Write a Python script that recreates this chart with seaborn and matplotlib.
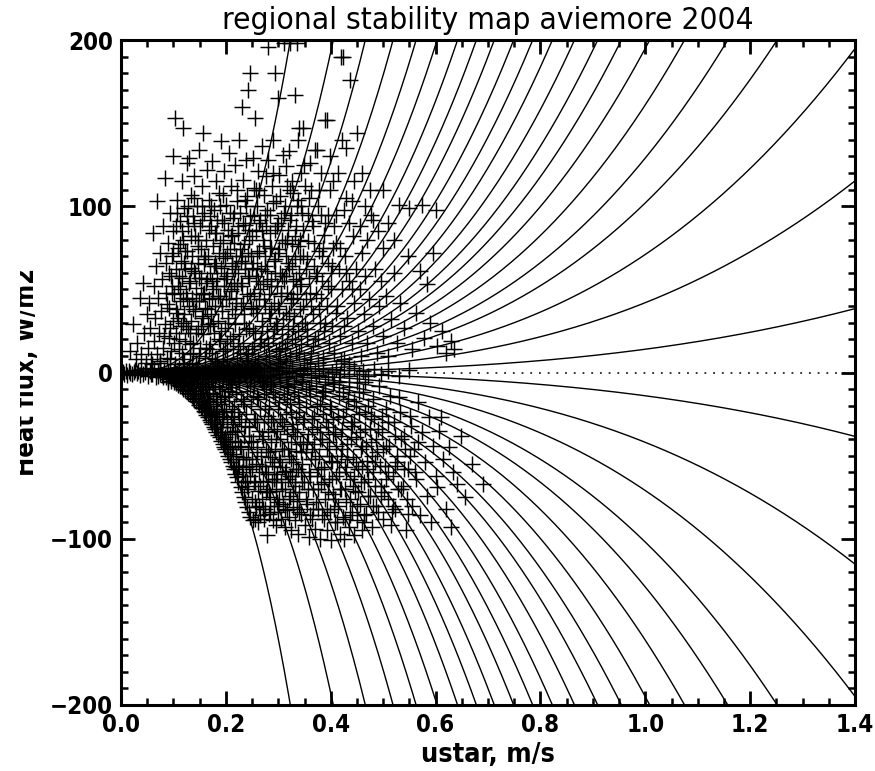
import numpy as np
import pandas as pd
import matplotlib
matplotlib.use("Agg")
import matplotlib.pyplot as plt
import seaborn as sns
from matplotlib.ticker import MultipleLocator
from matplotlib.transforms import Bbox, TransformedBbox
from matplotlib import font_manager as fm

# ---------------- data ----------------
# stability curves: heat flux = +/- coef * ustar**3  (W m-2 per (m/s)^3)
curve_coef = [5935, 3011, 1976, 1431, 1121, 912, 756, 642, 554, 476, 413,
              359, 309, 266, 230, 195, 161, 129, 102, 71, 42, 14]
curve_sign = [1, -1]

zero_pts = [(0.003,0.5),(0.006,-0.8),(0.009,1.2),(0.012,-1.5),(0.015,1),(0.018,0),(0.021,-1),(0.024,0.5),
            (0.027,1.8),(0.03,-0.5),(0.033,1),(0.036,-1.8),(0.039,2),(0.042,-1),(0.045,0.5),(0.048,2.5),
            (0.051,-2),(0.055,1),(0.058,-1),(0.062,2),(0.066,-2.5),(0.07,0.5),(0.074,3),(0.078,-1.5),
            (0.082,1.5),(0.086,-3),(0.09,0),(0.094,3),(0.098,-2),(0.102,1),(0.106,-3.5),(0.11,2.5),
            (0.114,-1),(0.118,3.5),(0.122,-2.5),(0.126,0.5),(0.13,3),(0.134,-3),(0.138,1),(0.142,-1.5),
            (0.146,3.5),(0.15,-3.5),(0.155,0.5),(0.16,2.5),(0.165,-2),(0.17,1),(0.175,-3),(0.18,3),
            (0.185,-1),(0.19,2),(0.195,-3.5),(0.2,0.5),(0.206,3),(0.212,-2),(0.218,1.5),(0.224,-3),
            (0.23,2.5),(0.236,-1),(0.242,3.5),(0.248,-2.5),(0.254,0.5),(0.26,2),(0.266,-3),(0.272,1),
            (0.278,-1.5),(0.284,3),(0.29,-2.5),(0.296,1),(0.302,-1),(0.308,2.5),(0.314,-3),(0.32,0.5),
            (0.327,3),(0.334,-2),(0.341,1.5),(0.348,-1),(0.355,2.5),(0.362,-3),(0.37,1),(0.378,-1.5),
            (0.386,2),(0.394,-2.5),(0.402,0.5),(0.41,2),(0.418,-1),(0.426,1.5),(0.435,-2),(0.444,2.5),
            (0.453,-1),(0.462,1),(0.472,-2),(0.482,2),(0.495,-1),(0.51,1),(0.53,-2),(0.55,1.5),
            (0.06,5),(0.09,-6),(0.12,6),(0.15,-7),(0.18,6),(0.21,-7),(0.24,7),(0.27,-6),(0.3,6),(0.33,-7),
            (0.36,6),(0.39,-6),(0.42,7),(0.45,-6),(0.075,7),(0.105,-5),(0.135,5),(0.165,-6),(0.195,7),(0.225,-5),
            (0.255,6),(0.285,-7),(0.315,7),(0.345,-5),(0.375,6),(0.405,-7),(0.435,5),(0.465,-6)]

pos_pts = [(0.017,13),(0.023,29),(0.028,8),(0.031,18),(0.036,45),(0.039,11),(0.042,54),(0.044,24),(0.047,6),(0.049,35),
           (0.052,15),(0.054,42),(0.056,27),(0.058,8),(0.061,84),(0.062,52),(0.063,19),(0.065,33),(0.067,64),(0.069,103),(0.069,11),
           (0.071,45),(0.072,24),(0.074,72),(0.075,6),(0.077,37),(0.078,56),(0.08,15),(0.081,88),(0.083,29),(0.084,117),(0.085,48),(0.086,66),(0.088,9),(0.089,78),
           (0.091,21),(0.092,39),(0.093,96),(0.095,58),(0.096,13),(0.097,70),(0.099,31),(0.1,130),(0.1,85),(0.101,47),(0.103,153),(0.103,5),(0.104,62),(0.105,24),(0.106,104),(0.107,36),(0.108,75),(0.109,52),
           (0.111,14),(0.112,91),(0.113,43),(0.114,67),(0.115,28),(0.116,115),(0.117,57),(0.118,147),(0.118,8),(0.119,80),(0.12,35),(0.121,99),(0.122,19),(0.123,62),(0.124,48),(0.125,126),(0.126,73),(0.127,26),(0.128,88),(0.129,40),
           (0.13,129),(0.131,11),(0.132,55),(0.133,107),(0.134,31),(0.135,70),(0.136,45),(0.137,94),(0.138,18),(0.139,61),(0.14,118),(0.141,37),(0.142,82),(0.143,6),(0.144,51),(0.145,100),(0.146,26),(0.147,66),(0.148,134),(0.149,43),
           (0.15,88),(0.151,15),(0.152,57),(0.153,74),(0.154,33),(0.155,112),(0.156,47),(0.157,144),(0.157,23),(0.158,65),(0.159,96),(0.16,9),(0.161,39),(0.162,80),(0.163,54),(0.164,122),(0.165,29),(0.166,70),(0.167,104),(0.168,44),(0.169,17),
           (0.17,60),(0.171,88),(0.172,35),(0.173,127),(0.174,12),(0.175,76),(0.176,50),(0.177,98),(0.178,24),(0.179,66),(0.18,40),(0.181,115),(0.182,84),(0.183,7),(0.184,57),(0.185,31),(0.186,72),(0.187,108),(0.188,46),(0.189,19),
           (0.19,139),(0.191,63),(0.192,92),(0.193,37),(0.194,13),(0.195,80),(0.196,52),(0.197,121),(0.198,27),(0.199,69),(0.2,44),(0.201,101),(0.202,8),(0.203,58),(0.204,86),(0.205,33),(0.206,132),(0.207,74),(0.208,20),(0.209,49),
           (0.21,112),(0.211,64),(0.212,38),(0.213,93),(0.214,14),(0.215,78),(0.216,54),(0.217,125),(0.218,29),(0.219,70),(0.22,45),(0.221,103),(0.222,9),(0.223,84),(0.224,60),(0.225,140),(0.226,23),(0.227,96),(0.228,40),(0.229,67),
           (0.23,160),(0.231,52),(0.232,116),(0.233,18),(0.234,77),(0.235,35),(0.236,89),(0.237,62),(0.238,128),(0.239,11),(0.24,47),(0.241,106),(0.242,72),(0.243,170),(0.244,27),(0.245,57),(0.246,180),(0.247,94),(0.248,39),(0.249,82),
           (0.25,14),(0.251,66),(0.252,129),(0.253,111),(0.254,48),(0.255,153),(0.256,24),(0.257,85),(0.258,58),(0.259,100),(0.26,36),(0.261,121),(0.262,8),(0.263,73),(0.264,44),(0.265,92),(0.266,18),(0.267,62),(0.268,136),(0.269,31),
           (0.27,80),(0.271,53),(0.272,107),(0.273,16),(0.274,70),(0.275,40),(0.276,118),(0.277,88),(0.278,25),(0.279,61),(0.28,196),(0.281,128),(0.282,47),(0.283,10),(0.284,95),(0.285,33),(0.286,75),(0.287,56),(0.288,112),(0.289,21),
           (0.29,140),(0.291,67),(0.292,42),(0.293,180),(0.294,86),(0.295,13),(0.296,103),(0.297,52),(0.298,28),(0.299,72),(0.3,165),(0.301,38),(0.302,119),(0.303,60),(0.304,8),(0.305,93),(0.306,46),(0.307,23),(0.308,80),(0.309,131),
           (0.31,198),(0.311,55),(0.312,15),(0.313,100),(0.314,36),(0.315,70),(0.316,112),(0.317,48),(0.318,26),(0.319,86),(0.32,133),(0.321,62),(0.322,10),(0.323,198),(0.324,42),(0.325,95),(0.326,77),(0.327,20),(0.328,55),(0.329,108),
           (0.33,34),(0.331,167),(0.332,68),(0.333,12),(0.334,88),(0.335,47),(0.336,198),(0.337,25),(0.338,104),(0.339,60),(0.34,147),(0.341,38),(0.342,80),(0.343,17),(0.344,53),(0.345,96),(0.346,30),(0.347,70),(0.348,147),(0.349,8),
           (0.35,112),(0.352,44),(0.354,22),(0.356,79),(0.358,57),(0.36,126),(0.362,12),(0.364,91),(0.366,35),(0.368,64),(0.37,134),(0.372,47),(0.374,134),(0.376,20),(0.378,73),
           (0.38,30),(0.382,95),(0.384,55),(0.386,9),(0.388,83),(0.39,152),(0.392,40),(0.393,152),(0.395,66),(0.397,18),(0.399,110),
           (0.4,50),(0.402,28),(0.405,75),(0.407,12),(0.41,95),(0.412,40),(0.415,62),(0.418,22),(0.42,190),(0.422,50),(0.424,190),(0.426,8),(0.428,70),(0.43,135),(0.432,33),(0.435,55),(0.437,176),(0.44,18),(0.442,82),(0.445,42),(0.448,62),(0.45,144),
           (0.425,98),(0.44,103),(0.455,88),(0.465,100),(0.47,80),(0.48,92),(0.445,115),(0.46,120),(0.475,110),(0.49,85),(0.43,105),(0.5,75),(0.51,90),(0.52,80),(0.5,110),
           (0.53,101),(0.55,99),(0.575,101),(0.6,98),
           (0.452,25),(0.455,50),(0.458,10),(0.46,72),(0.463,35),(0.466,58),(0.47,18),(0.473,44),(0.476,95),(0.48,28),(0.484,62),(0.488,12),(0.492,40),(0.496,55),(0.5,22),
           (0.505,46),(0.51,10),(0.515,32),(0.52,60),(0.527,18),(0.533,42),(0.54,27),(0.547,70),(0.555,14),(0.562,36),(0.571,61),(0.577,21),(0.584,53),(0.59,30),(0.596,72),(0.603,16),(0.612,25),(0.62,12),(0.63,19),(0.636,14)]

core_pos_pts = [(0.082,22),(0.087,41),(0.091,60),(0.094,8),(0.098,48),(0.102,18),(0.105,88),(0.108,33),(0.111,58),(0.113,77),
                (0.116,12),(0.119,45),(0.121,66),(0.124,28),(0.126,94),(0.129,54),(0.132,17),(0.134,82),(0.137,38),(0.139,105),
                (0.142,60),(0.144,24),(0.147,76),(0.149,10),(0.152,47),(0.154,92),(0.157,34),(0.159,70),(0.162,15),(0.164,56),
                (0.167,86),(0.169,28),(0.172,100),(0.174,45),(0.177,64),(0.179,8),(0.182,52),(0.184,92),(0.187,20),(0.189,78),
                (0.192,40),(0.194,107),(0.197,60),(0.199,14),(0.202,72),(0.204,30),(0.207,96),(0.209,50),(0.212,83),(0.214,22),
                (0.217,62),(0.219,42),(0.222,110),(0.224,16),(0.227,74),(0.229,54),(0.232,90),(0.234,30),(0.237,66),(0.239,100),
                (0.242,12),(0.244,80),(0.247,46),(0.249,63),(0.252,25),(0.254,95),(0.257,40),(0.259,72),(0.262,55),(0.264,110),
                (0.267,20),(0.269,86),(0.272,44),(0.274,64),(0.277,10),(0.279,98),(0.282,36),(0.284,75),(0.287,52),(0.289,120),
                (0.292,26),(0.294,68),(0.297,88),(0.299,40),(0.302,14),(0.304,106),(0.307,58),(0.309,32),(0.312,78),(0.314,124),
                (0.317,18),(0.319,66),(0.322,92),(0.324,44),(0.327,115),(0.329,28),(0.332,82),(0.334,56),(0.337,140),(0.339,12),
                (0.342,70),(0.344,100),(0.347,40),(0.349,125),(0.352,62),(0.355,26),(0.357,95),(0.36,48),(0.363,110),(0.366,16),
                (0.369,78),(0.372,58),(0.375,100),(0.378,38),(0.381,120),(0.384,70),(0.387,25),(0.39,90),(0.394,52),(0.398,130),
                (0.402,64),(0.406,88),(0.41,36),(0.414,120),(0.418,75),(0.422,140),(0.426,28),(0.43,60),(0.435,90),(0.44,50),
                (0.093,27),(0.097,52),(0.1,72),(0.104,38),(0.107,96),(0.11,20),(0.113,50),(0.116,85),(0.119,30),(0.122,73),
                (0.125,44),(0.128,100),(0.131,24),(0.134,63),(0.137,12),(0.14,90),(0.143,43),(0.146,80),(0.149,57),(0.152,28),
                (0.155,100),(0.158,48),(0.161,68),(0.164,38),(0.167,14),(0.17,94),(0.173,55),(0.176,30),(0.179,84),(0.182,64),
                (0.185,46),(0.188,100),(0.191,25),(0.194,70),(0.197,90),(0.2,56),(0.203,18),(0.206,44),(0.209,82),(0.212,66),
                (0.215,96),(0.218,35),(0.221,52),(0.224,88),(0.227,12),(0.23,70),(0.233,42),(0.236,104),(0.239,26),(0.242,58),
                (0.245,86),(0.248,70),(0.251,38),(0.254,16),(0.257,110),(0.26,62),(0.263,90),(0.266,50),(0.269,28),(0.272,76),
                (0.275,95),(0.278,55),(0.281,18),(0.284,84),(0.287,38),(0.29,102),(0.293,60),(0.296,30),(0.299,90),(0.302,74),
                (0.305,48),(0.308,18),(0.311,96),(0.314,58),(0.317,80),(0.32,36),(0.323,110),(0.326,64),(0.329,45),(0.332,20),
                (0.335,100),(0.338,76),(0.341,52),(0.344,120),(0.347,86),(0.35,30),(0.354,68),(0.358,105),(0.362,40),(0.366,88),
                (0.37,20),(0.374,60),(0.378,110),(0.382,45),(0.386,75),(0.39,30),(0.395,95),(0.4,60),(0.405,115),(0.41,78)]

neg_pts = [(0.06,-1.2),(0.07,-2),(0.075,-1),(0.08,-3),(0.085,-1.8),(0.09,-4),(0.093,-2.2),(0.096,-5),(0.099,-3),
           (0.101,-6),(0.103,-3.5),(0.105,-6.5),(0.107,-2),(0.109,-7.3),(0.11,-4.5),(0.112,-8),(0.114,-5.5),(0.116,-9),(0.117,-3),(0.119,-9.8),(0.12,-6.5),(0.122,-10.5),(0.124,-4),(0.125,-11.3),(0.127,-8),(0.128,-12.2),(0.129,-5),
           (0.131,-13),(0.132,-9),(0.134,-5.5),(0.135,-14.4),(0.136,-11),(0.138,-15.3),(0.139,-7),(0.14,-16),(0.141,-12.5),(0.143,-17),(0.144,-9),(0.145,-4),(0.146,-18),(0.147,-14),(0.149,-19.5),(0.15,-10.5),(0.152,-20.5),(0.153,-16),(0.154,-6),(0.155,-21.5),(0.157,-12.5),(0.158,-23),(0.159,-18),
           (0.16,-24),(0.161,-8),(0.162,-20),(0.163,-25.5),(0.164,-14),(0.165,-4),(0.166,-27),(0.167,-22),(0.168,-10),(0.169,-28.5),(0.17,-17),(0.171,-29.5),(0.172,-24.5),(0.173,-6),(0.174,-31),(0.175,-20),(0.176,-12.5),(0.177,-32.5),(0.178,-27),(0.179,-34),(0.18,-8),(0.181,-23),(0.182,-35.5),(0.183,-30),(0.184,-16),(0.185,-37.5),(0.186,-4),(0.187,-26),(0.188,-39),(0.189,-33),
           (0.19,-19),(0.191,-41),(0.192,-10),(0.193,-36),(0.194,-43),(0.195,-28),(0.196,-45),(0.197,-14),(0.198,-39),(0.199,-46),(0.2,-23),(0.201,-5),(0.202,-48),(0.203,-33),(0.204,-42),(0.205,-50),(0.206,-17),(0.207,-52),(0.208,-37),(0.209,-27),(0.21,-54),(0.211,-9),(0.212,-46),(0.213,-56),(0.214,-31),(0.215,-20),(0.216,-58),(0.217,-41),(0.218,-61),(0.219,-13),
           (0.22,-50),(0.221,-63),(0.222,-35),(0.223,-24),(0.224,-66),(0.225,-56),(0.226,-6),(0.227,-44),(0.228,-69),(0.229,-30),(0.23,-60),(0.231,-72),(0.232,-17),(0.233,-51),(0.234,-75),(0.235,-38),(0.236,-65),(0.237,-78),(0.238,-25),(0.239,-57),(0.24,-81),(0.241,-11),(0.242,-46),(0.243,-70),(0.244,-84),(0.245,-33),(0.246,-62),(0.247,-87),(0.248,-20),(0.249,-52),
           (0.25,-76),(0.251,-89),(0.252,-41),(0.253,-8),(0.254,-66),(0.255,-88),(0.256,-28),(0.257,-55),(0.258,-81),(0.259,-15),(0.26,-45),(0.261,-71),(0.262,-90),(0.263,-35),(0.264,-60),(0.265,-86),(0.266,-22),(0.267,-50),(0.268,-76),(0.269,-5),(0.27,-40),(0.271,-65),(0.272,-88),(0.273,-30),(0.274,-56),(0.275,-82),(0.276,-13),(0.277,-46),(0.278,-70),(0.279,-98),
           (0.28,-36),(0.281,-61),(0.282,-85),(0.283,-20),(0.284,-51),(0.285,-75),(0.286,-8),(0.287,-42),(0.288,-66),(0.289,-89),(0.29,-28),(0.291,-56),(0.292,-80),(0.293,-15),(0.294,-47),(0.295,-71),(0.296,-92),(0.297,-35),(0.298,-61),(0.299,-84),(0.3,-22),(0.301,-52),(0.302,-76),(0.303,-6),(0.304,-40),(0.305,-66),(0.306,-88),(0.307,-30),(0.308,-57),(0.309,-79),
           (0.31,-13),(0.311,-46),(0.312,-70),(0.313,-93),(0.314,-25),(0.315,-59),(0.316,-83),(0.317,-37),(0.318,-9),(0.319,-64),(0.32,-87),(0.321,-50),(0.322,-19),(0.323,-74),(0.324,-42),(0.325,-95),(0.326,-31),(0.327,-62),(0.328,-81),(0.329,-54),(0.33,-12),(0.331,-68),(0.332,-89),(0.333,-27),(0.334,-47),(0.335,-77),(0.336,-36),(0.337,-58),(0.338,-97),(0.339,-18),
           (0.34,-72),(0.342,-43),(0.343,-85),(0.345,-6),(0.346,-55),(0.347,-30),(0.349,-66),(0.35,-92),(0.352,-21),(0.353,-48),(0.355,-79),(0.356,-37),(0.358,-60),(0.359,-99),(0.361,-14),(0.362,-52),(0.364,-88),(0.365,-28),(0.367,-70),(0.368,-43),(0.37,-94),(0.371,-8),(0.373,-62),(0.374,-33),(0.376,-82),(0.377,-50),(0.379,-19),(0.38,-100),
           (0.381,-67),(0.383,-40),(0.384,-86),(0.386,-25),(0.387,-57),(0.389,-76),(0.39,-11),(0.392,-46),(0.393,-95),(0.395,-33),(0.396,-64),(0.398,-84),(0.399,-20),(0.401,-101),(0.402,-53),(0.404,-37),(0.405,-73),(0.407,-6),(0.408,-90),(0.41,-44),(0.411,-62),(0.413,-27),(0.414,-80),(0.416,-14),(0.417,-97),(0.419,-50),
           (0.42,-70),(0.422,-34),(0.424,-87),(0.425,-100),(0.427,-57),(0.429,-22),(0.43,-78),(0.432,-43),(0.434,-93),(0.435,-9),(0.437,-64),(0.439,-30),(0.44,-84),(0.442,-51),(0.444,-98),(0.445,-17),(0.447,-71),(0.449,-39),(0.45,-89),(0.452,-58),(0.454,-25),(0.456,-79),(0.458,-46),(0.46,-95),
           (0.462,-12),(0.464,-66),(0.466,-34),(0.468,-85),(0.47,-53),(0.472,-20),(0.474,-74),(0.476,-42),(0.478,-93),(0.48,-60),(0.483,-28),(0.486,-80),(0.489,-48),(0.492,-8),(0.495,-68),(0.498,-36),(0.5,-88),(0.503,-56),(0.506,-22),(0.509,-76),(0.512,-44),(0.515,-92),(0.518,-62),(0.52,-30),
           (0.523,-82),(0.527,-50),(0.531,-15),(0.535,-70),(0.539,-38),(0.543,-95),(0.547,-58),(0.551,-26),(0.555,-80),(0.559,-46),(0.563,-64),(0.567,-18),(0.571,-86),(0.575,-36),(0.579,-54),(0.583,-74),(0.587,-27),(0.591,-90),(0.595,-44),(0.6,-62),
           (0.603,-69),(0.607,-35),(0.61,-27),(0.615,-52),(0.62,-82),(0.625,-45),(0.63,-93),(0.634,-60),(0.64,-67),(0.648,-38),(0.656,-75),(0.67,-55),(0.69,-67)]

core_neg_pts = [(0.151,-7),(0.154,-13),(0.157,-18),(0.16,-3),(0.163,-10),(0.166,-16),(0.169,-23),(0.172,-4),(0.175,-13),(0.178,-25),
                (0.181,-18),(0.184,-31),(0.187,-9),(0.19,-36),(0.193,-24),(0.196,-40),(0.199,-15),(0.202,-30),(0.205,-44),(0.208,-6),
                (0.211,-22),(0.214,-49),(0.217,-35),(0.22,-12),(0.223,-56),(0.226,-28),(0.229,-45),(0.232,-62),(0.235,-19),(0.238,-52),
                (0.241,-68),(0.244,-38),(0.247,-8),(0.25,-58),(0.253,-28),(0.256,-78),(0.259,-48),(0.262,-16),(0.265,-68),(0.268,-38),
                (0.271,-82),(0.274,-22),(0.277,-60),(0.28,-48),(0.283,-72),(0.286,-30),(0.289,-12),(0.292,-64),(0.295,-40),(0.298,-78),
                (0.301,-18),(0.304,-54),(0.307,-70),(0.31,-32),(0.313,-82),(0.316,-8),(0.319,-46),(0.322,-62),(0.325,-24),(0.328,-72),
                (0.331,-38),(0.334,-58),(0.337,-14),(0.34,-84),(0.343,-48),(0.346,-66),(0.349,-28),(0.352,-76),(0.355,-42),(0.358,-10),
                (0.361,-62),(0.364,-34),(0.367,-82),(0.37,-52),(0.373,-20),(0.376,-70),(0.379,-40),(0.382,-58),(0.385,-12),(0.388,-88),
                (0.391,-30),(0.394,-72),(0.397,-50),(0.4,-22),(0.403,-64),(0.406,-82),(0.409,-36),(0.412,-54),(0.415,-6),(0.418,-70),
                (0.421,-46),(0.424,-26),(0.427,-88),(0.43,-60),(0.433,-16),(0.436,-76),(0.439,-40),(0.442,-68),(0.445,-30),(0.448,-54),
                (0.451,-80),(0.454,-12),(0.457,-66),(0.46,-44),(0.463,-86),(0.466,-24),(0.469,-58),(0.472,-74),(0.475,-34),(0.478,-50),
                (0.481,-16),(0.484,-68),(0.487,-40),(0.49,-84),(0.494,-56),(0.498,-26),(0.502,-72),(0.506,-44),(0.51,-60),(0.514,-14),
                (0.518,-80),(0.522,-38),(0.527,-54),(0.532,-24),(0.537,-68),(0.542,-46),(0.548,-85),(0.554,-32),(0.56,-60),(0.566,-42),
                (0.132,-4),(0.137,-9),(0.142,-13),(0.147,-6),(0.152,-16),(0.156,-9),(0.16,-19),(0.164,-22),(0.168,-13),(0.172,-26),
                (0.176,-8),(0.18,-30),(0.184,-22),(0.188,-14),(0.192,-33),(0.196,-24),(0.2,-41),(0.204,-11),(0.208,-46),(0.212,-36),
                (0.216,-26),(0.22,-57),(0.224,-42),(0.228,-16),(0.232,-52),(0.236,-32),(0.24,-66),(0.244,-56),(0.248,-42),(0.252,-14),
                (0.256,-66),(0.26,-30),(0.264,-80),(0.268,-56),(0.272,-10),(0.276,-72),(0.28,-26),(0.284,-84),(0.288,-54),(0.292,-34),
                (0.296,-64),(0.3,-80),(0.304,-28),(0.308,-46),(0.312,-60),(0.316,-16),(0.32,-76),(0.324,-52),(0.328,-34),(0.332,-66),
                (0.336,-82),(0.34,-24),(0.344,-60),(0.348,-42),(0.352,-10),(0.356,-70),(0.36,-86),(0.364,-46),(0.368,-26),(0.372,-78),
                (0.376,-58),(0.38,-36),(0.384,-14),(0.388,-66),(0.392,-82),(0.396,-42),(0.4,-54),(0.404,-28),(0.408,-76),(0.412,-90),
                (0.416,-60),(0.42,-38),(0.424,-12),(0.428,-70),(0.432,-52),(0.436,-86),(0.44,-32),(0.444,-62),(0.448,-20),(0.452,-72),
                (0.456,-36),(0.46,-56),(0.464,-90),(0.468,-44),(0.472,-64),(0.476,-26),(0.48,-80),(0.485,-54),(0.49,-34),(0.495,-74),
                (0.5,-46),(0.505,-64),(0.51,-30),(0.516,-84),(0.522,-56),(0.528,-70),(0.534,-40),(0.54,-58),(0.546,-76),(0.552,-50)]

x_ticks = [0.0, 0.2, 0.4, 0.6, 0.8, 1.0, 1.2, 1.4]
y_ticks = [-200, -100, 0, 100, 200]
title_text = "regional stability map aviemore 2004"
xlabel_text = "ustar, m/s"
ylabel_text = "Heat flux, W/m2"

# ---------------- build tables ----------------
obs = pd.DataFrame(zero_pts + pos_pts + core_pos_pts + neg_pts + core_neg_pts,
                   columns=["ustar", "flux"])

u_grid = np.linspace(0.0, 1.4, 500)
rows = []
cid = 0
for s in curve_sign:
    for c in curve_coef:
        rows.append(pd.DataFrame({"ustar": u_grid, "flux": s * c * u_grid ** 3, "curve": cid}))
        cid += 1
curves = pd.concat(rows, ignore_index=True)

# ---------------- style ----------------
sns.set_style("ticks")
plt.rcParams["font.family"] = ["DejaVu Sans"]
for k in ["text.color", "axes.labelcolor", "xtick.color", "ytick.color", "axes.edgecolor"]:
    plt.rcParams[k] = "black"

_names = {(f.name, f.stretch) for f in fm.fontManager.ttflist}
if any(n == "Liberation Sans Narrow" for n, _ in _names):
    lab_font = dict(family="Liberation Sans Narrow")
    scale = 1.12
elif any(n == "DejaVu Sans" and s in ("condensed", "semi-condensed") for n, s in _names):
    lab_font = dict(family="DejaVu Sans", stretch="condensed")
    scale = 1.08
else:
    lab_font = dict(family="DejaVu Sans")
    scale = 1.0

# ---------------- plot ----------------
W, H = 875, 771
fig = plt.figure(figsize=(W / 100, H / 100), dpi=100)
ax = fig.add_axes([121 / W, 1 - 705 / H, 734 / W, 665 / H])

sns.scatterplot(data=obs, x="ustar", y="flux", marker="+", s=130, color="black",
                linewidth=1.05, ax=ax, legend=False, zorder=2)
sns.lineplot(data=curves, x="ustar", y="flux", units="curve", estimator=None,
             color="black", linewidth=1.0, sort=False, ax=ax, legend=False, zorder=3)
ax.axhline(0, color="black", linewidth=1.1, linestyle=(0, (1.2, 4.5)), zorder=1)

ax.set_xlim(x_ticks[0], x_ticks[-1])
ax.set_ylim(y_ticks[0], y_ticks[-1])
ax.set_xticks(x_ticks)
ax.set_yticks(y_ticks)
ax.xaxis.set_minor_locator(MultipleLocator(0.05))
ax.yaxis.set_minor_locator(MultipleLocator(10))
ax.tick_params(which="both", direction="in", top=True, right=True, color="black")
ax.tick_params(which="major", length=10, width=2.0, pad=6)
ax.tick_params(which="minor", length=5, width=1.8)
for lab in ax.get_xticklabels() + ax.get_yticklabels():
    lab.set_fontweight("bold")
    lab.set_fontsize(16 * scale)
    lab.set(**lab_font)
for sp in ax.spines.values():
    sp.set_linewidth(2.2)

ax.set_xlabel(xlabel_text, fontsize=18 * scale, fontweight="bold", labelpad=3, **lab_font)
ax.set_ylabel("")
ax.set_title(title_text, fontsize=21 * scale, pad=8, **lab_font)

yl = fig.text(40 / W, 1 - 372 / H, ylabel_text, rotation=90, ha="right", va="center",
              fontsize=17 * scale, fontweight="bold", **lab_font)
yl.set_clip_box(TransformedBbox(Bbox([[20 / W, 0], [1, 1]]), fig.transFigure))
yl.set_clip_on(True)

fig.savefig("out.png", dpi=100)
